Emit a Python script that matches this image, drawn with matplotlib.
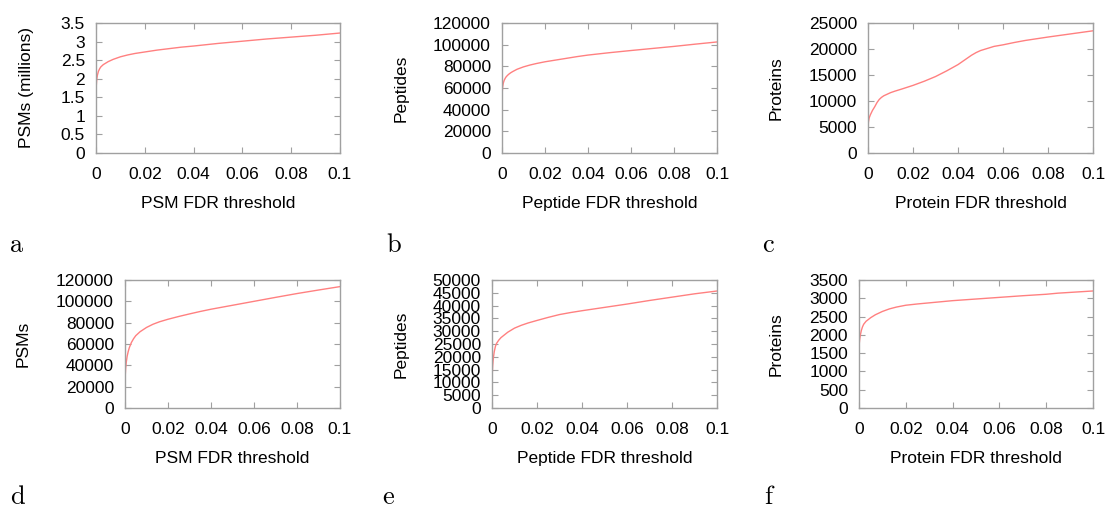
import numpy as np
import matplotlib
matplotlib.use("Agg")
import matplotlib.pyplot as plt

plt.rcParams['font.family'] = ['Liberation Sans', 'DejaVu Sans']

# values (FDR threshold -> count)
fdr_a = [0, 0.0001, 0.0003, 0.0006, 0.001, 0.0015, 0.002, 0.003, 0.004, 0.005, 0.007, 0.01, 0.013,
         0.016, 0.02, 0.025, 0.03, 0.035, 0.04, 0.05, 0.06, 0.07, 0.08, 0.09, 0.1]
psm_millions = [1.5, 1.8, 1.98, 2.1, 2.2, 2.27, 2.32, 2.38, 2.42, 2.46, 2.52, 2.59, 2.64,
                2.68, 2.72, 2.77, 2.81, 2.85, 2.88, 2.95, 3.01, 3.07, 3.12, 3.17, 3.23]

fdr_b = [0, 0.0001, 0.0003, 0.0006, 0.001, 0.0015, 0.002, 0.003, 0.004, 0.005, 0.007, 0.01, 0.013,
         0.016, 0.02, 0.025, 0.03, 0.035, 0.04, 0.05, 0.06, 0.07, 0.08, 0.09, 0.1]
peptides_b = [50000, 56000, 61000, 64500, 67000, 69000, 70500, 72500, 74000, 75200, 77300, 79500, 81200,
              82600, 84200, 85800, 87400, 89000, 90400, 92600, 94600, 96500, 98400, 100500, 102500]

fdr_c = [0, 0.0002, 0.0005, 0.001, 0.002, 0.003, 0.004, 0.005, 0.006, 0.007, 0.008, 0.01, 0.012,
         0.015, 0.02, 0.025, 0.03, 0.035, 0.04, 0.043, 0.046, 0.048, 0.05, 0.053, 0.056, 0.06,
         0.065, 0.07, 0.08, 0.09, 0.1]
proteins_c = [5000, 6000, 6700, 7300, 8200, 8900, 9700, 10300, 10700, 11000, 11200, 11600, 11900,
              12300, 13000, 13800, 14700, 15800, 17000, 17900, 18800, 19300, 19700, 20100, 20500, 20800,
              21250, 21650, 22300, 22900, 23500]

fdr_d = [0, 0.0001, 0.0003, 0.0006, 0.001, 0.0015, 0.002, 0.003, 0.004, 0.005, 0.007, 0.01, 0.013,
         0.016, 0.02, 0.025, 0.03, 0.035, 0.04, 0.05, 0.06, 0.07, 0.08, 0.09, 0.1]
psms_d = [20000, 30000, 37000, 43000, 48500, 53000, 56500, 61500, 65000, 67800, 71500, 75500, 78500,
          80800, 83200, 85800, 88200, 90500, 92600, 96300, 100000, 103700, 107300, 110600, 113800]

fdr_e = [0, 0.0001, 0.0003, 0.0006, 0.001, 0.0015, 0.002, 0.003, 0.004, 0.005, 0.007, 0.01, 0.013,
         0.016, 0.02, 0.025, 0.03, 0.035, 0.04, 0.05, 0.06, 0.07, 0.08, 0.09, 0.1]
peptides_e = [8500, 13000, 16500, 19500, 22000, 24000, 25200, 26500, 27500, 28200, 29600, 31200, 32300,
              33200, 34200, 35400, 36500, 37300, 38000, 39300, 40600, 42000, 43300, 44600, 45700]

fdr_f = [0, 0.0001, 0.0003, 0.0006, 0.001, 0.0015, 0.002, 0.003, 0.004, 0.005, 0.007, 0.01, 0.013,
         0.016, 0.02, 0.025, 0.03, 0.035, 0.04, 0.05, 0.06, 0.07, 0.08, 0.085, 0.09, 0.1]
proteins_f = [1600, 1750, 1880, 2000, 2120, 2220, 2290, 2370, 2420, 2470, 2550, 2640, 2710,
              2760, 2810, 2845, 2875, 2905, 2935, 2980, 3025, 3070, 3110, 3140, 3160, 3200]

panels = [
    # x, y, xlabel, ylabel, ymax, ystep, axes box px (left, top, right, bottom), ylabel right edge px, letter pos
    (fdr_a, psm_millions, 'PSM FDR threshold', 'PSMs (millions)', 3.5, 0.5, (96, 23, 340, 153), 34, (10, 252), 'a'),
    (fdr_b, peptides_b, 'Peptide FDR threshold', 'Peptides', 120000, 20000, (502, 23, 717, 153), 409, (386, 252), 'b'),
    (fdr_c, proteins_c, 'Protein FDR threshold', 'Proteins', 25000, 5000, (868, 23, 1093, 153), 784, (762, 252), 'c'),
    (fdr_d, psms_d, 'PSM FDR threshold', 'PSMs', 120000, 20000, (125, 280, 340, 408), 31, (10, 504), 'd'),
    (fdr_e, peptides_e, 'Peptide FDR threshold', 'Peptides', 50000, 5000, (492, 280, 717, 408), 409, (382, 504), 'e'),
    (fdr_f, proteins_f, 'Protein FDR threshold', 'Proteins', 3500, 500, (859, 280, 1093, 408), 784, (764, 504), 'f'),
]

W, H = 1109, 509
fig = plt.figure(figsize=(W / 100, H / 100), dpi=100)
frame = '#a0a0a0'

for x, y, xl, yl, ymax, ystep, box, ylab_x, letter_pos, letter in panels:
    l, t, r, b = box
    ax = fig.add_axes([l / W, (H - b) / H, (r - l) / W, (b - t) / H])
    ax.plot(x, y, color='#ff8080', lw=1.0)
    ax.set_xlim(0, 0.1)
    ax.set_ylim(0, ymax)
    ax.set_xticks([0, 0.02, 0.04, 0.06, 0.08, 0.1])
    ax.set_xticklabels(['0', '0.02', '0.04', '0.06', '0.08', '0.1'])
    yt = np.arange(0, ymax + ystep / 2, ystep)
    ax.set_yticks(yt)
    ax.set_yticklabels(['%g' % v for v in yt])
    for s in ax.spines.values():
        s.set_color(frame)
        s.set_linewidth(1.0)
    ax.tick_params(direction='in', length=4, width=0.8, color=frame,
                   top=True, right=True, labelsize=12.5, labelcolor='black')
    ax.tick_params(axis='x', pad=10)
    ax.tick_params(axis='y', pad=8)
    ax.set_xlabel(xl, fontsize=12.5, labelpad=10)
    ax.set_ylabel(yl, fontsize=12.5)
    ax.yaxis.set_label_coords((ylab_x - l) / (r - l), 0.5)
    fig.text(letter_pos[0] / W, (H - letter_pos[1]) / H, letter,
             fontfamily='cmr10', fontsize=19, ha='left', va='baseline')

fig.savefig('out.png', dpi=100)
